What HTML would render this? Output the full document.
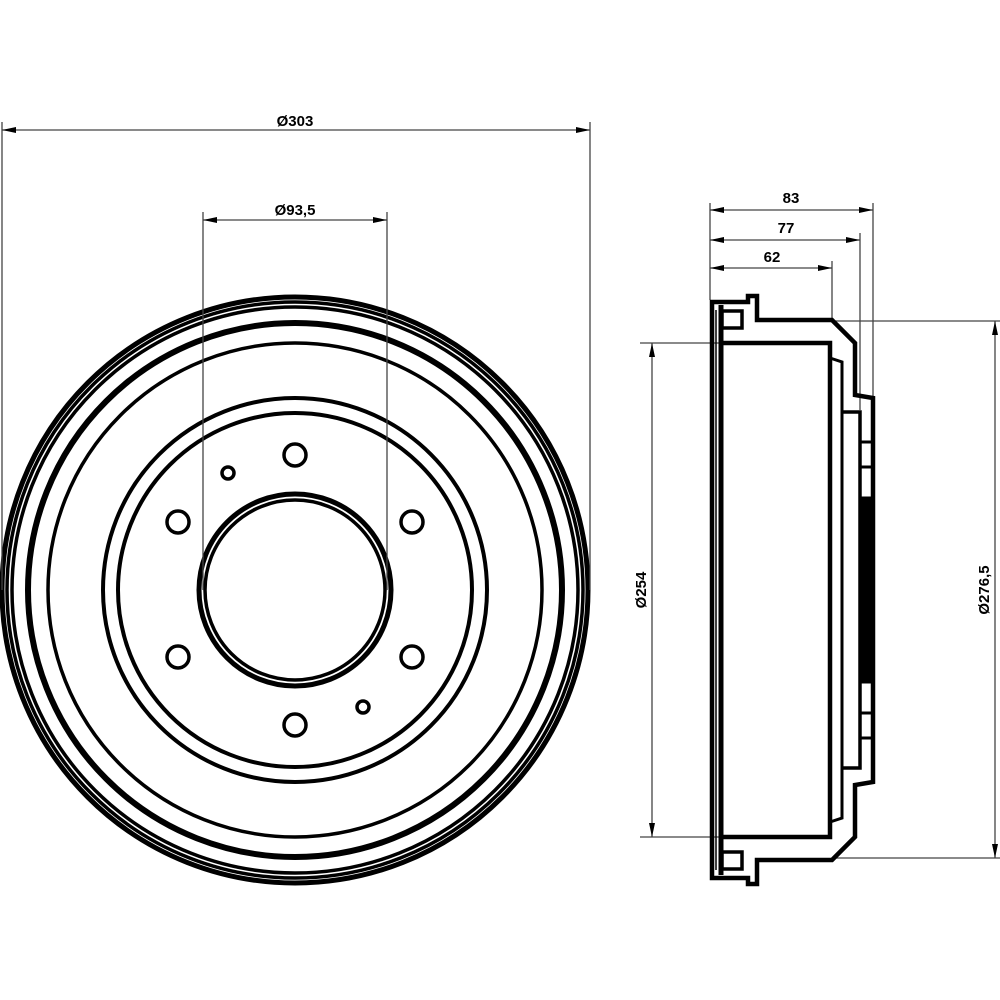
<!DOCTYPE html>
<html><head><style>html,body{margin:0;padding:0;background:#fff}svg{display:block}</style></head>
<body>
<svg width="1000" height="1000" viewBox="0 0 1000 1000" xmlns="http://www.w3.org/2000/svg" font-family="Liberation Sans, sans-serif">
<g fill="none" stroke="#000">
<circle cx="295" cy="590" r="293" stroke-width="5"/>
<circle cx="295" cy="590" r="288" stroke-width="3.5"/>
<circle cx="295" cy="590" r="283" stroke-width="3.5"/>
<circle cx="295" cy="590" r="267" stroke-width="6"/>
<circle cx="295" cy="590" r="247" stroke-width="3.5"/>
<circle cx="295" cy="590" r="192" stroke-width="4"/>
<circle cx="295" cy="590" r="177" stroke-width="4"/>
<circle cx="295" cy="590" r="96" stroke-width="5"/>
<circle cx="295" cy="590" r="90" stroke-width="3.5"/>
<g stroke-width="3.5">
<circle cx="295" cy="455" r="11"/><circle cx="178" cy="522" r="11"/><circle cx="178" cy="657" r="11"/>
<circle cx="295" cy="725" r="11"/><circle cx="412" cy="657" r="11"/><circle cx="412" cy="522" r="11"/>
<circle cx="228" cy="473" r="6"/><circle cx="363" cy="707" r="6"/>
</g>
<g stroke="#444" stroke-width="1.3">
<line x1="2" y1="130" x2="590" y2="130"/>
<line x1="2" y1="122" x2="2" y2="590"/>
<line x1="590" y1="122" x2="590" y2="590"/>
<line x1="203" y1="220" x2="387" y2="220"/>
<line x1="203" y1="212" x2="203" y2="590"/>
<line x1="387" y1="212" x2="387" y2="590"/>
</g>
<g stroke="#444" stroke-width="1.3">
<line x1="710" y1="203" x2="710" y2="300"/>
<line x1="873" y1="203" x2="873" y2="398"/>
<line x1="860" y1="233" x2="860" y2="410"/>
<line x1="832" y1="261" x2="832" y2="320"/>
<line x1="710" y1="210" x2="873" y2="210"/>
<line x1="710" y1="240" x2="860" y2="240"/>
<line x1="710" y1="268" x2="832" y2="268"/>
<line x1="652" y1="343" x2="652" y2="837"/>
<line x1="640" y1="343" x2="722" y2="343"/>
<line x1="640" y1="837" x2="722" y2="837"/>
<line x1="995" y1="321" x2="995" y2="858"/>
<line x1="832" y1="321" x2="1000" y2="321"/>
<line x1="832" y1="858" x2="1000" y2="858"/>
</g>
<g id="half">
<polyline points="712,590 712,302 748,302 748,296 757,296 757,320 832,320 855,343 855,395 873,398 873,590" stroke-width="4.5"/>
<line x1="721" y1="305" x2="721" y2="590" stroke-width="5"/>
<line x1="716" y1="310" x2="716" y2="590" stroke-width="1.5"/>
<rect x="722" y="311" width="20" height="17" stroke-width="3.5"/>
<polyline points="722,343 830,343 830,590" stroke-width="4.5"/>
<polyline points="830,358 842,362 842,590" stroke-width="3"/>
<polyline points="843,412 860,412 860,590" stroke-width="3.5"/>
<line x1="860" y1="442" x2="875" y2="442" stroke-width="3"/>
<line x1="860" y1="467" x2="875" y2="467" stroke-width="3"/>
<line x1="860" y1="498" x2="875" y2="498" stroke-width="3"/>
<rect x="860" y="498" width="13" height="92" fill="#000" stroke="none"/>
</g>
<use href="#half" transform="translate(0,1180) scale(1,-1)"/>
</g>
<g fill="#000" stroke="none">
<path d="M2,130 l14,-3 v6z M590,130 l-14,-3 v6z M203,220 l14,-3 v6z M387,220 l-14,-3 v6z"/>
<path d="M710,210 l14,-3 v6z M873,210 l-14,-3 v6z M710,240 l14,-3 v6z M860,240 l-14,-3 v6z M710,268 l14,-3 v6z M832,268 l-14,-3 v6z"/>
<path d="M652,343 l-3,14 h6z M652,837 l-3,-14 h6z M995,321 l-3,14 h6z M995,858 l-3,-14 h6z"/>
</g>
<g font-size="15" font-weight="bold" fill="#000" text-anchor="middle">
<text x="295" y="126">Ø303</text>
<text x="295" y="215">Ø93,5</text>
<text x="791" y="203">83</text>
<text x="786" y="233">77</text>
<text x="772" y="262">62</text>
<text transform="translate(646,590) rotate(-90)">Ø254</text>
<text transform="translate(989,590) rotate(-90)">Ø276,5</text>
</g>
</svg>
</body></html>
